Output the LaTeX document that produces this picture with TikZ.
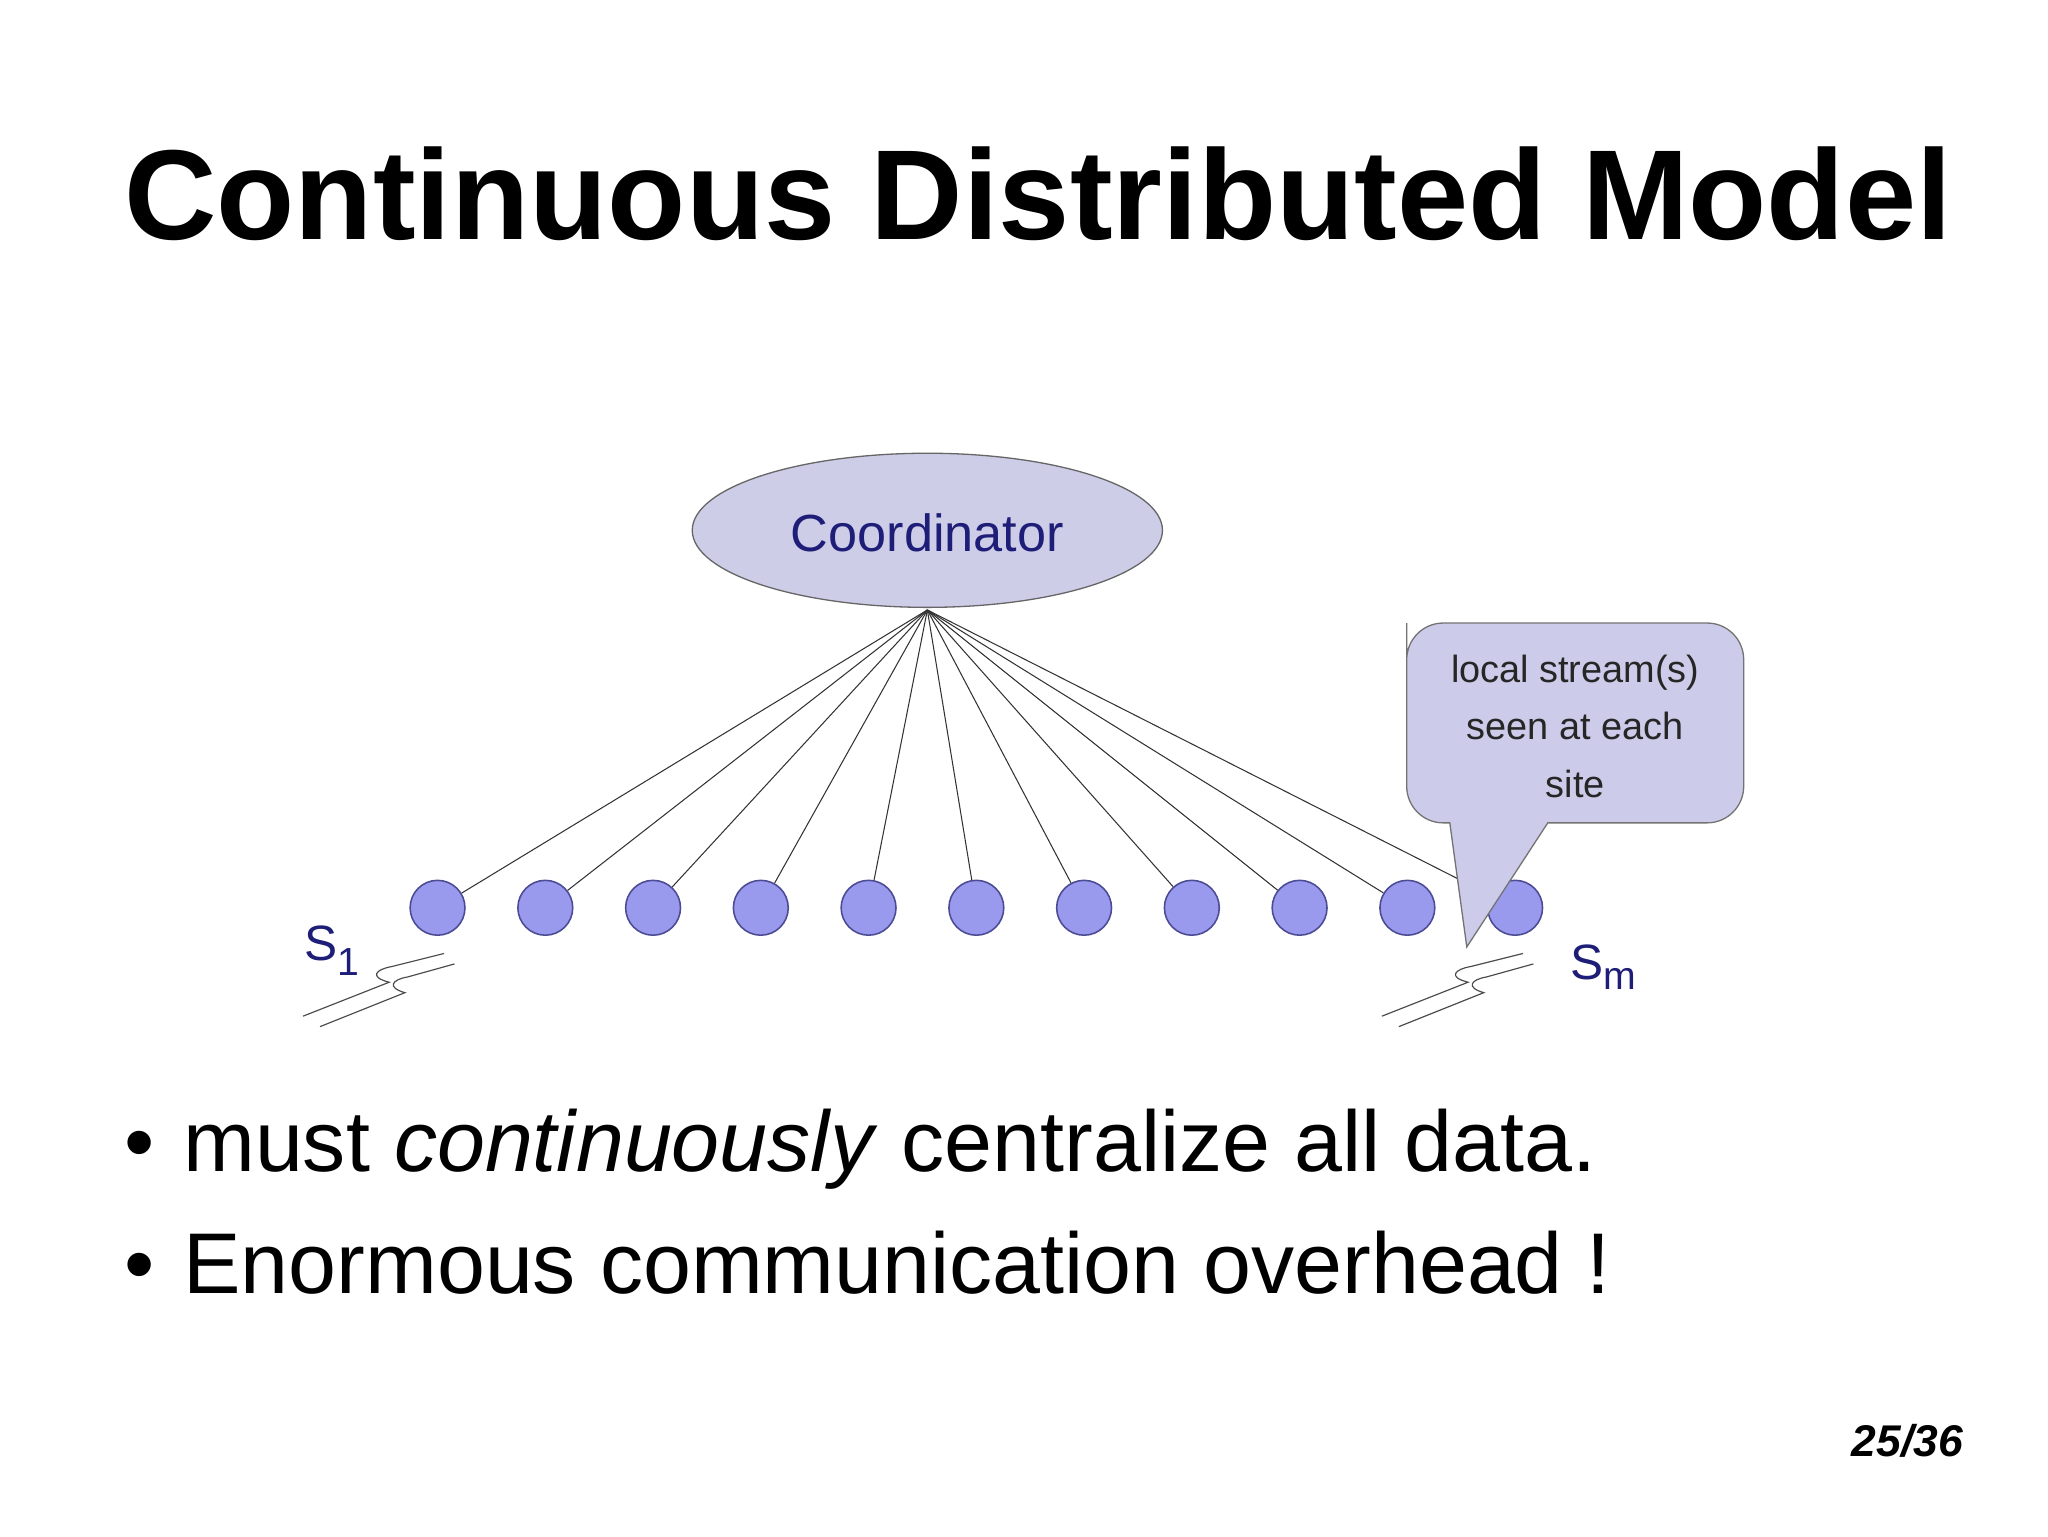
\documentclass[tikz,border=0pt]{standalone}
\usetikzlibrary{shapes.geometric}
\usepackage{fontspec}
\setmainfont{Liberation Sans}
\begin{document}
\begin{tikzpicture}[x=1pt,y=-1pt,
  site/.style={circle,draw=blue!40!black!70,fill={rgb,255:red,153;green,153;blue,238},minimum size=42pt,inner sep=0pt,line width=1.2pt},
  link/.style={line width=0.8pt,black!80},
  squig/.style={line width=0.9pt,black!70}]
\definecolor{lab}{RGB}{30,30,120}
\definecolor{ellfill}{RGB}{205,205,232}
\useasboundingbox (0,0) rectangle (1568,1176);
\fill[white] (0,0) rectangle (1568,1176);
\node[anchor=base west,font=\fontsize{98}{100}\selectfont\bfseries,inner sep=0] (title) at (95,183) {Continuous Distributed Model};
\node[ellipse,draw=black!60,fill=ellfill,minimum width=360pt,minimum height=118pt,line width=1pt] (coord) at (710,406) {};
\node[font=\fontsize{40}{42}\selectfont,text=lab] (ctext) at (710,408) {Coordinator};
\coordinate (apex) at (710,467);
\foreach \i in {0,...,10}{
  \node[site] (s\i) at ({335+82.5*\i},695) {};
}
\foreach \i in {0,...,10}{
  \draw[link] (apex) -- (s\i);
}
\draw[black!55,line width=1pt,fill={rgb,255:red,204;green,204;blue,234},rounded corners=28pt]
  (1077,505) -- (1077,630) [sharp corners] -- (1110,630) -- (1123,725) -- (1185,630) [rounded corners=28pt] -- (1335,630) -- (1335,477) -- (1077,477) -- cycle;
\node[font=\fontsize{29}{44}\selectfont,align=center,text=black!85] (call) at (1206,556) {local stream(s)\\seen at each\\site};
\node[font=\fontsize{38}{40}\selectfont,text=lab,anchor=base west,inner sep=0] (s1l) at (233,735) {S\textsubscript{\fontsize{30}{30}\selectfont 1}};
\node[font=\fontsize{38}{40}\selectfont,text=lab,anchor=base west,inner sep=0] (sml) at (1202,750) {S\textsubscript{\fontsize{30}{30}\selectfont m}};
\begin{scope}[shift={(0,0)}]
\draw[squig] (232,778) -- (298,752) .. controls (282,748) and (288,742) .. (300,740) -- (340,730);
\draw[squig] (245,786) -- (310,760) .. controls (296,756) and (300,750) .. (312,748) -- (348,738);
\end{scope}
\begin{scope}[shift={(826,0)}]
\draw[squig] (232,778) -- (298,752) .. controls (282,748) and (288,742) .. (300,740) -- (340,730);
\draw[squig] (245,786) -- (310,760) .. controls (296,756) and (300,750) .. (312,748) -- (348,738);
\end{scope}
\node[anchor=base west,font=\fontsize{66}{70}\selectfont,inner sep=0] (b1) at (95,897) {•\hspace{22pt}must \textit{continuously} centralize all data.};
\node[anchor=base west,font=\fontsize{66}{70}\selectfont,inner sep=0] (b2) at (95,990) {•\hspace{22pt}Enormous communication overhead !};
\node[anchor=base east,font=\fontsize{34}{36}\selectfont\bfseries\itshape,inner sep=0] (pg) at (1503,1115) {25/36};
\end{tikzpicture}
\end{document}
